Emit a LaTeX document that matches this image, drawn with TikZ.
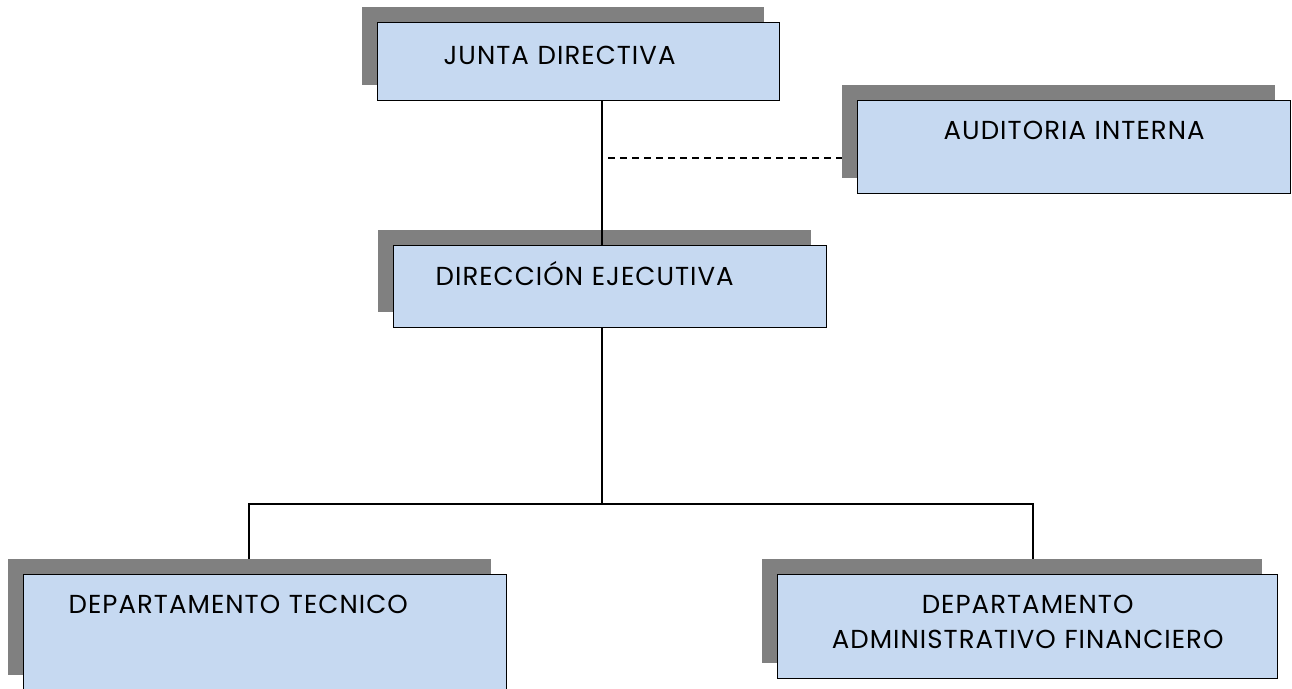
\documentclass[tikz,border=0pt]{standalone}
\usepackage{fontspec}
\setmainfont{Poppins}[LetterSpace=4]
\usetikzlibrary{shadows}
\definecolor{cajaazul}{RGB}{198,217,241}
\colorlet{sombra}{black!50}
\tikzset{
    unidad/.style={draw=black,line width=1.3pt,fill=cajaazul,anchor=north west,inner ysep=0pt,
        general shadow={fill=sombra,draw=none,shadow xshift=-15.5pt,shadow yshift=15.5pt},
        font=\fontsize{26}{35}\selectfont},
    enlace/.style={black,line width=1.3pt},
    punteado/.style={black,line width=1.1pt,dash pattern=on 7pt off 5pt}
}

\begin{document}
\begin{tikzpicture}[x=1pt,y=-1pt]
    \useasboundingbox (0,0) rectangle (1292,688);
    % ejes de los conectores
    \coordinate (eje) at (602,0);
    \coordinate (rama) at (608,158);
    \coordinate (bifurca) at (602,504);
    \coordinate (izq) at (249,0);
    \coordinate (der) at (1033,0);
    % cajas
    \node [unidad,inner xsep=66pt,text width=270pt,align=left,text height=42pt,text depth=36pt]
        (junta) at (377,22) {JUNTA DIRECTIVA};
    \node [unidad,inner xsep=10pt,text width=413pt,align=center,text height=39pt,text depth=54pt]
        (auditoria) at (857,100) {AUDITORIA INTERNA};
    \node [unidad,inner xsep=42pt,text width=349pt,align=left,text height=40pt,text depth=42pt]
        (direccion) at (393,245) {DIRECCIÓN EJECUTIVA};
    \node [unidad,inner xsep=45pt,text width=393pt,align=left,text height=39pt,text depth=77pt]
        (tecnico) at (23,574) {DEPARTAMENTO TECNICO};
    \node [unidad,inner xsep=10pt,text width=480pt,align=center,text height=39pt,text depth=65pt,
        font=\fontsize{26}{35}\selectfont]
        (admin) at (777,574) {DEPARTAMENTO\\ADMINISTRATIVO FINANCIERO};
    % conectores
    \draw [enlace] (junta.south -| eje) -- (direccion.north -| eje);
    \draw [punteado,shorten >=15.5pt] (rama) -- (rama -| auditoria.west);
    \draw [enlace] (direccion.south -| eje) -- (bifurca);
    \draw [enlace,shorten <=15.5pt,shorten >=15.5pt] (tecnico.north -| izq) |- (bifurca) -| (admin.north -| der);
\end{tikzpicture}
\end{document}
